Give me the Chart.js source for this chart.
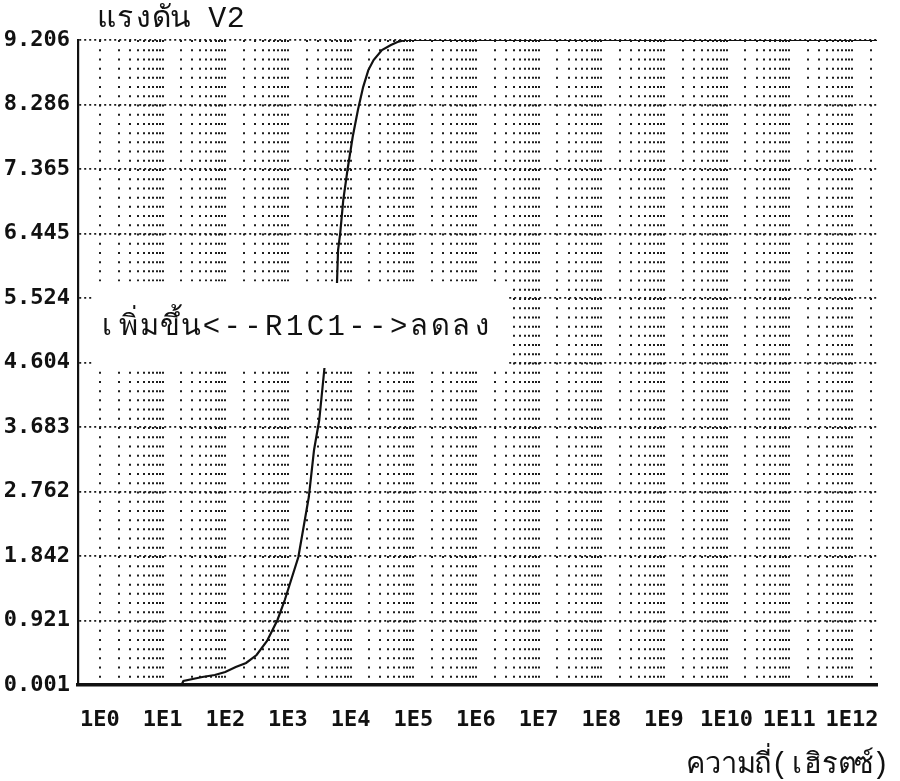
<!DOCTYPE html>
<html>
<head>
<meta charset="utf-8">
<script src="https://cdn.jsdelivr.net/npm/chart.js@4.4.1/dist/chart.umd.min.js"></script>
<style>
html,body{margin:0;padding:0;background:#fff;}
#wrap{position:relative;width:900px;height:781px;}
</style>
</head>
<body>
<div id="wrap"><canvas id="c" width="900" height="781"></canvas></div>
<script>
// ---- texts ----
const chartTitle = 'แรงดัน V2';
const xAxisTitle = 'ความถี่(เฮิรตซ์)';
const noteText = 'เพิ่มขึ้น<--R1C1-->ลดลง';

// ---- x axis (frequency, Hz, log) ----
const xMin = 0.447;      // 10^-0.35
const xMax = 2.51e12;    // 10^12.4
const xTickValues = [1e0,1e1,1e2,1e3,1e4,1e5,1e6,1e7,1e8,1e9,1e10,1e11,1e12];
const xTickLabels = ['1E0','1E1','1E2','1E3','1E4','1E5','1E6','1E7','1E8','1E9','1E10','1E11','1E12'];

// ---- y axis (volts) ----
const yMin = 0.001;
const yMax = 9.206;
const yTickValues = [0.001,0.921,1.842,2.762,3.683,4.604,5.524,6.445,7.365,8.286,9.206];
const yTickLabels = ['0.001','0.921','1.842','2.762','3.683','4.604','5.524','6.445','7.365','8.286','9.206'];

// ---- series: V2 vs frequency (null = gap where the note is printed) ----
const freqHz = [1, 20, 21.5, 43, 68, 100, 147, 215, 316, 464, 681, 891, 1468, 2154, 2610, 3162, 3828,
                5000,
                6067, 6310, 6808, 7638, 8913, 10790, 13090, 15850, 19190, 23280, 31620, 44000, 56000, 75000, 2.51e12];
const v2Volts = [0.001, 0.001, 0.058, 0.115, 0.144, 0.187, 0.258, 0.315, 0.429, 0.629, 0.929, 1.214, 1.828, 2.684, 3.355, 3.783, 4.525,
                 null,
                 5.738, 6.209, 6.437, 6.922, 7.350, 7.821, 8.206, 8.534, 8.777, 8.920, 9.063, 9.134, 9.177, 9.206, 9.206];

// grid tick positions (1..9 per decade)
const xGridTicks = [];
for (let k = 0; k <= 12; k++) {
  for (let m = 1; m <= 9; m++) {
    const v = m * Math.pow(10, k);
    if (v <= xMax) xGridTicks.push(v);
  }
}

const points = freqHz.map((f, i) => ({x: f, y: v2Volts[i]}));

const MONO = "'DejaVu Sans Mono', 'Liberation Mono', monospace";
const THAI = "'Liberation Mono', 'DejaVu Sans Mono', 'Noto Sans', 'DejaVu Sans', sans-serif";

function graphemes(text) {
  if (typeof Intl !== 'undefined' && Intl.Segmenter) {
    return Array.from(new Intl.Segmenter('th', {granularity: 'grapheme'}).segment(text), s => s.segment);
  }
  return Array.from(text);
}
function drawCells(ctx, text, x, yMid, cell, font) {
  ctx.save();
  ctx.font = font;
  ctx.fillStyle = '#111';
  ctx.textAlign = 'center';
  ctx.textBaseline = 'middle';
  graphemes(text).forEach((g, i) => ctx.fillText(g, x + i * cell + cell / 2, yMid));
  ctx.restore();
}

const decorPlugin = {
  id: 'decor',
  beforeDatasetsDraw(chart) {
    const {ctx, chartArea, scales} = chart;
    const y = scales.y;
    const top = y.getPixelForValue(5.76);
    const bot = y.getPixelForValue(4.55);
    ctx.save();
    ctx.fillStyle = '#ffffff';
    ctx.fillRect(chartArea.left + 14, top, 415, bot - top);
    ctx.restore();
    drawCells(ctx, noteText, chartArea.left + 19, (top + bot) / 2 + 3, 20.8, "29px " + THAI);
  },
  afterDraw(chart) {
    const {ctx, chartArea} = chart;
    drawCells(ctx, chartTitle, chartArea.left + 19, 19, 18.5, "30px " + THAI);
    drawCells(ctx, xAxisTitle, chartArea.right + 12 - 12 * 16.8, 765, 16.8, "29px " + THAI);
  }
};

new Chart(document.getElementById('c'), {
  type: 'line',
  data: {
    datasets: [{
      data: points,
      borderColor: '#111',
      borderWidth: 2.2,
      pointRadius: 0,
      tension: 0,
      spanGaps: false,
      fill: false
    }]
  },
  options: {
    responsive: false,
    animation: false,
    layout: {padding: {top: 40, right: 23, left: 0, bottom: 0}},
    plugins: {legend: {display: false}, tooltip: {enabled: false}},
    scales: {
      x: {
        type: 'logarithmic',
        min: xMin,
        max: xMax,
        afterBuildTicks: (s) => { s.ticks = xGridTicks.map(v => ({value: v, major: xTickValues.includes(v)})); },
        afterFit: (s) => { s.height = 96; },
        ticks: {
          autoSkip: false,
          maxRotation: 0,
          minRotation: 0,
          padding: 22,
          color: '#111',
          font: {family: MONO, size: 22, weight: 'bold'},
          callback: (value) => {
            const i = xTickValues.findIndex(t => Math.abs(t - value) / t < 1e-6);
            return i >= 0 ? xTickLabels[i] : '';
          }
        },
        grid: {
          color: '#1e1e1e',
          lineWidth: 2,
          drawTicks: false
        },
        border: {
          display: true,
          color: '#111',
          width: 3.5,
          dash: (ctx) => {
            const ca = ctx.chart.chartArea;
            const p = ca ? (ca.bottom - ca.top) / 70 : 9.214;
            return [2, p - 2];
          }
        }
      },
      y: {
        type: 'linear',
        min: yMin,
        max: yMax,
        afterBuildTicks: (s) => { s.ticks = yTickValues.map(v => ({value: v})); },
        afterFit: (s) => { s.width = 78; },
        ticks: {
          padding: 8,
          color: '#111',
          font: {family: MONO, size: 22, weight: 'bold'},
          callback: (value, index) => yTickLabels[index]
        },
        grid: {
          color: '#1a1a1a',
          lineWidth: 1.8,
          drawTicks: false
        },
        border: {
          display: true,
          color: '#111',
          width: 2.2,
          dash: [2, 3]
        }
      }
    }
  },
  plugins: [decorPlugin]
});
</script>
</body>
</html>
